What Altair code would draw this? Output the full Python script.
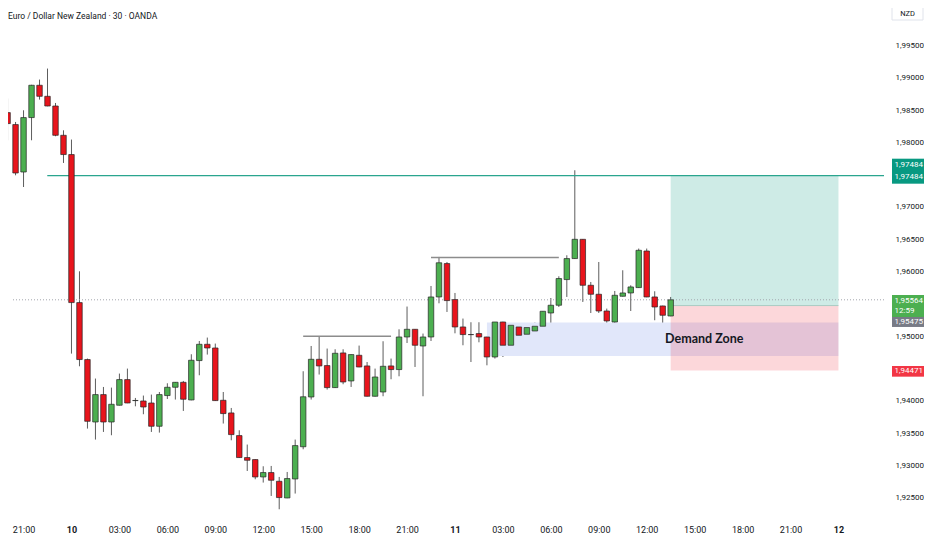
import altair as alt
import pandas as pd

# ---------------- data ----------------
opens = [1.98460, 1.98275, 1.97541, 1.98383, 1.98883, 1.98712, 1.98562, 1.98109, 1.97811, 1.95521,
         1.94640, 1.93674, 1.94098, 1.93674, 1.93933, 1.94330, 1.94005, 1.93999, 1.93968, 1.93608,
         1.94083, 1.94211, 1.94288, 1.94015, 1.94624, 1.94876, 1.94819, 1.94010, 1.93814, 1.93464,
         1.93124, 1.93093, 1.92824, 1.92892, 1.92757, 1.92499, 1.92793, 1.93291, 1.94061, 1.94644,
         1.94547, 1.94206, 1.94742, 1.94309, 1.94706, 1.94541, 1.94072, 1.94138, 1.94541, 1.94485,
         1.94989, 1.95108, 1.94850, 1.94989, 1.95608, 1.96125, 1.95568, 1.95144, 1.95026, 1.95042,
         1.94989, 1.94680, 1.95221, 1.94861, 1.95144, 1.95031, 1.95082, 1.95155, 1.95360, 1.95480,
         1.95877, 1.96202, 1.96500, 1.95789, 1.95650, 1.95391, 1.95221, 1.95619, 1.95670, 1.95753,
         1.96319, 1.95608, 1.95469, 1.95314]
highs = [1.98677, 1.98315, 1.98496, 1.98890, 1.98971, 1.99141, 1.98609, 1.98186, 1.98043, 1.96005,
         1.94655, 1.94346, 1.94216, 1.94206, 1.94423, 1.94500, 1.94046, 1.94083, 1.94098, 1.94138,
         1.94273, 1.94292, 1.94309, 1.94722, 1.94927, 1.94980, 1.94887, 1.94138, 1.93891, 1.93546,
         1.93325, 1.93097, 1.92989, 1.92994, 1.92824, 1.92901, 1.93402, 1.94459, 1.94850, 1.95000,
         1.94810, 1.94799, 1.94799, 1.94720, 1.94856, 1.94602, 1.94500, 1.94923, 1.94655, 1.95108,
         1.95460, 1.95112, 1.95042, 1.95778, 1.96227, 1.96149, 1.95670, 1.95274, 1.95217, 1.95217,
         1.94993, 1.95221, 1.95225, 1.95170, 1.95196, 1.95135, 1.95212, 1.95387, 1.95592, 1.95928,
         1.96253, 1.97568, 1.96504, 1.95840, 1.96149, 1.95428, 1.95701, 1.96021, 1.95789, 1.96357,
         1.96357, 1.95696, 1.95473, 1.95608]
lows = [1.98032, 1.97490, 1.97309, 1.98032, 1.98661, 1.98558, 1.98094, 1.97681, 1.94732, 1.94536,
        1.93572, 1.93402, 1.93520, 1.93469, 1.93930, 1.93965, 1.93917, 1.93794, 1.93520, 1.93510,
        1.94030, 1.94021, 1.93845, 1.94010, 1.94397, 1.94717, 1.94000, 1.93650, 1.93391, 1.93120,
        1.92916, 1.92788, 1.92737, 1.92530, 1.92324, 1.92495, 1.92567, 1.93252, 1.94021, 1.94408,
        1.94176, 1.94200, 1.94258, 1.94216, 1.94521, 1.94068, 1.94068, 1.94072, 1.94335, 1.94381,
        1.94896, 1.94525, 1.94072, 1.94927, 1.95510, 1.95376, 1.95046, 1.94861, 1.94602, 1.94907,
        1.94551, 1.94655, 1.94680, 1.94857, 1.95011, 1.94989, 1.94989, 1.95093, 1.95159, 1.95453,
        1.95608, 1.96198, 1.95531, 1.95360, 1.95360, 1.94949, 1.95186, 1.95615, 1.95391, 1.95749,
        1.95604, 1.95248, 1.95015, 1.95310]
closes = [1.98290, 1.97526, 1.98383, 1.98883, 1.98712, 1.98562, 1.98109, 1.97811, 1.95521, 1.94640,
          1.93685, 1.94098, 1.93674, 1.93948, 1.94330, 1.93968, 1.94007, 1.93906, 1.93608, 1.94098,
          1.94211, 1.94288, 1.94026, 1.94629, 1.94876, 1.94819, 1.94005, 1.93804, 1.93479, 1.93124,
          1.93082, 1.92824, 1.92892, 1.92773, 1.92505, 1.92799, 1.93309, 1.94064, 1.94644, 1.94541,
          1.94206, 1.94737, 1.94293, 1.94717, 1.94525, 1.94072, 1.94370, 1.94536, 1.94485, 1.94989,
          1.95108, 1.94861, 1.94989, 1.95608, 1.96137, 1.95552, 1.95144, 1.95026, 1.95026, 1.94989,
          1.94680, 1.95221, 1.94861, 1.95170, 1.95015, 1.95135, 1.95155, 1.95387, 1.95480, 1.95893,
          1.96202, 1.96500, 1.95789, 1.95650, 1.95391, 1.95237, 1.95634, 1.95670, 1.95763, 1.96330,
          1.95608, 1.95453, 1.95325, 1.95564]

# time axis: one tick every 3 hours (6 bars of 30 min), first tick = bar 2 (21:00)
tick_labels = ["21:00", "10", "03:00", "06:00", "09:00", "12:00", "15:00", "18:00", "21:00",
               "11", "03:00", "06:00", "09:00", "12:00", "15:00", "18:00", "21:00", "12"]
tick_positions = [2 + 6 * k for k in range(len(tick_labels))]
# price-scale labels shown in the reference (those hidden behind the tag boxes are omitted)
price_ticks = [1.925, 1.930, 1.935, 1.940, 1.950, 1.960, 1.965,
               1.970, 1.980, 1.985, 1.990, 1.995]

title_text = "Euro / Dollar New Zealand · 30 · OANDA"

# drawn objects
take_profit = 1.97484
entry_price = 1.95475
stop_loss = 1.94471
last_price = 1.95564
position_start, position_end = 83.0, 104.0
demand_top, demand_bottom, demand_start = 1.95212, 1.94695, 60.0
tp_line_start = 4.97
resist_prices = [1.95000, 1.96220]
resist_starts = [37.0, 53.0]
resist_ends = [48.0, 69.0]

# ---------------- layout ----------------
W, H = 881, 514
X_DOMAIN = [0.68, 109.70]
Y_DOMAIN = [1.92127, 2.00078]
FONT = "Roboto"
TXT = "#131722"

xs = alt.Scale(domain=X_DOMAIN, nice=False, zero=False)
ys = alt.Scale(domain=Y_DOMAIN, nice=False, zero=False)

df = pd.DataFrame({"i": list(range(len(opens))), "open": opens, "high": highs,
                   "low": lows, "close": closes})
df["dir"] = ["up" if c >= o else "down" for o, c in zip(opens, closes)]

label_expr = "[" + ",".join("'%s'" % t for t in tick_labels) + "][(datum.value-2)/6]"

x_axis = alt.Axis(values=tick_positions, labelExpr=label_expr, ticks=False, domain=False,
                  grid=False, title=None, labelFontSize=9, labelFont=FONT, labelColor=TXT,
                  labelPadding=3, labelFlush=False, labelOverlap=False,
                  labelFontWeight={"condition": {"test": "(datum.value - 8) % 48 == 0",
                                                 "value": "bold"}, "value": "normal"})
y_axis = alt.Axis(orient="right", values=price_ticks, ticks=False, domain=False, grid=False,
                  title=None, labelFontSize=8, labelFont=FONT, labelColor=TXT, labelPadding=6,
                  labelOverlap=False, labelFlush=False,
                  labelExpr="replace(format(datum.value, '.5f'), '.', ',')")


def X(field):
    return alt.X(field, scale=xs, axis=x_axis)


def Y(field):
    return alt.Y(field, scale=ys, axis=y_axis)


base = alt.Chart(df)

wicks = base.mark_rule(color="#5d5d5d", strokeWidth=1, clip=True).encode(
    x=X("i:Q"), y=Y("low:Q"), y2="high:Q",
)
bodies = base.mark_bar(size=5.5, stroke="#262626", strokeWidth=0.7, clip=True).encode(
    x=X("i:Q"), y=Y("open:Q"), y2="close:Q",
    color=alt.Color("dir:N", scale=alt.Scale(domain=["up", "down"],
                                             range=["#4caf50", "#e8141c"]), legend=None),
)


def zone(x0, x1, p0, p1, fill, opacity):
    d = pd.DataFrame({"x0": [x0], "x1": [x1], "p0": [p0], "p1": [p1]})
    return alt.Chart(d).mark_rect(fill=fill, opacity=opacity, clip=True).encode(
        x=X("x0:Q"), x2="x1:Q", y=Y("p0:Q"), y2="p1:Q")


tp_zone = zone(position_start, position_end, take_profit, entry_price, "#089981", 0.2)
demand_zone = zone(demand_start, position_end, demand_top, demand_bottom, "#e1e7fa", 1.0)
sl_zone = zone(position_start, position_end, entry_price, stop_loss, "#f23645", 0.2)


def hline(x0, x1, price, color, width, dash=None):
    d = pd.DataFrame({"x0": [x0], "x1": [x1], "p": [price]})
    kw = dict(color=color, strokeWidth=width, clip=True)
    if dash:
        kw["strokeDash"] = dash
    return alt.Chart(d).mark_rule(**kw).encode(x=X("x0:Q"), x2="x1:Q", y=Y("p:Q"))


lines = [
    hline(position_start, position_end, entry_price, "#a9cbc3", 1),
    hline(X_DOMAIN[0], X_DOMAIN[1], last_price, "#a3a6ad", 1, [1, 2]),
    hline(tp_line_start, X_DOMAIN[1], take_profit, "#2aa58e", 1.2),
]
for p, a, b in zip(resist_prices, resist_starts, resist_ends):
    lines.append(hline(a, b, p, "#8c8c8c", 1.5))

demand_label = alt.Chart(pd.DataFrame({"x": [82.3], "p": [1.94958], "t": ["Demand Zone"]})).mark_text(
    align="left", baseline="middle", font="Lato", fontSize=12.5, fontWeight="bold", color=TXT
).encode(x=X("x:Q"), y=Y("p:Q"), text="t:N")

title = alt.Chart(pd.DataFrame({"t": [title_text]})).mark_text(
    align="left", baseline="middle", font=FONT, fontSize=8.5, color=TXT
).encode(x=alt.value(0), y=alt.value(8), text="t:N")

# price-scale label boxes
box_prices = [take_profit, last_price, entry_price, stop_loss]
box_fills = ["#089981", "#4caf50", "#787b86", "#f23645"]
box_offsets = [(-17, 8), (-4.8, 17.2), (11.4, 21.4), (-4.5, 6.2)]
box_texts = [["1,97484", "1,97484"], ["1,95564", "12:59"], ["1,95475"], ["1,94471"]]
box_text_dy = [[-10.7, 1.3], [0.7, 10.7], [16.4], [0.6]]

boxes = []
for p, fill, (o0, o1), texts, dys in zip(box_prices, box_fills, box_offsets, box_texts, box_text_dy):
    d = pd.DataFrame({"p": [p]})
    boxes.append(alt.Chart(d).mark_rect(fill=fill, yOffset=o0, y2Offset=o1).encode(
        x=alt.value(W + 3), x2=alt.value(W + 35), y=Y("p:Q"), y2="p:Q"))
    for t, dy in zip(texts, dys):
        dt = pd.DataFrame({"p": [p], "t": [t]})
        boxes.append(alt.Chart(dt).mark_text(
            align="left", baseline="middle", font=FONT, fontSize=8, color="white", dy=dy
        ).encode(x=alt.value(W + 5.5), y=Y("p:Q"), text="t:N"))

nzd_box = alt.Chart(pd.DataFrame({"t": ["NZD"]})).mark_rect(
    fill="white", stroke="#e0e3eb", strokeWidth=1
).encode(x=alt.value(W + 3), x2=alt.value(W + 34), y=alt.value(-1), y2=alt.value(12))
nzd_text = alt.Chart(pd.DataFrame({"t": ["NZD"]})).mark_text(
    align="center", baseline="middle", font=FONT, fontSize=7.5, color=TXT
).encode(x=alt.value(W + 18.5), y=alt.value(5.5), text="t:N")

chart = alt.layer(
    wicks, tp_zone, demand_zone, sl_zone, *lines, demand_label, bodies, title,
    *boxes, nzd_box, nzd_text
).properties(
    width=W, height=H,
    autosize=alt.AutoSizeParams(type="none"),
    padding={"left": 0, "top": 0, "right": 35, "bottom": 12},
    background="white",
).configure_view(stroke=None)

chart.save("out.html", embed_options={"renderer": "svg", "actions": False})
